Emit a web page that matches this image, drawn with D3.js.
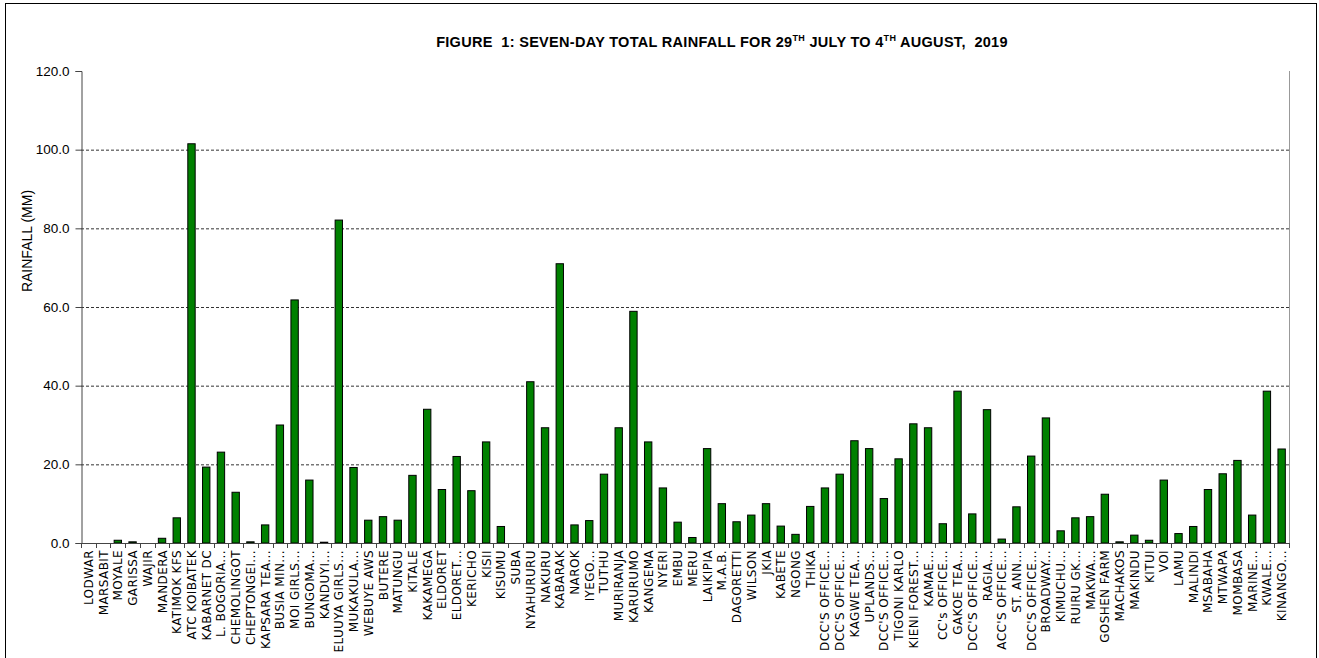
<!DOCTYPE html>
<html>
<head>
<meta charset="utf-8">
<script src="https://cdn.jsdelivr.net/npm/d3@7"></script>
<style>
  body { margin: 0; background: #fff; }
  svg { display: block; }
</style>
</head>
<body>
<script>
// stations, in the order they appear on the x axis
let stations = [
  "LODWAR", "MARSABIT", "MOYALE", "GARISSA", "WAJIR", "MANDERA", "KATIMOK KFS", "ATC KOIBATEK",
  "KABARNET DC", "L. BOGORIA...", "CHEMOLINGOT", "CHEPTONGEI...", "KAPSARA TEA...", "BUSIA MIN...",
  "MOI GIRLS...", "BUNGOMA...", "KANDUYI...", "ELUUYA GIRLS...", "MUKAKULA...", "WEBUYE AWS",
  "BUTERE", "MATUNGU", "KITALE", "KAKAMEGA", "ELDORET", "ELDORET...", "KERICHO", "KISII", "KISUMU",
  "SUBA", "NYAHURURU", "NAKURU", "KABARAK", "NAROK", "IYEGO...", "TUTHU", "MURIRANJA", "KARURUMO",
  "KANGEMA", "NYERI", "EMBU", "MERU", "LAIKIPIA", "M.A.B.", "DAGORETTI", "WILSON", "JKIA", "KABETE",
  "NGONG", "THIKA", "DCC'S OFFICE...", "DCC'S OFFICE...", "KAGWE TEA...", "UPLANDS...",
  "DCC'S OFFICE...", "TIGONI KARLO", "KIENI FOREST...", "KAMAE...", "CC's OFFICE...", "GAKOE TEA...",
  "DCC'S OFFICE...", "RAGIA...", "ACC'S OFFICE...", "ST. ANN...", "DCC'S OFFICE...", "BROADWAY...",
  "KIMUCHU...", "RUIRU GK...", "MAKWA...", "GOSHEN FARM", "MACHAKOS", "MAKINDU", "KITUI", "VOI",
  "LAMU", "MALINDI", "MSABAHA", "MTWAPA", "MOMBASA", "MARINE...", "KWALE...", "KINANGO..."
]

// seven-day totals (mm)
let rainfall = [
  0, 0, 0.7, 0.3, 0, 1.2, 6.4, 101.5,
  19.3, 23.1, 12.9, 0.3, 4.6, 30.0,
  61.8, 16.0, 0.2, 82.1, 19.2, 5.8,
  6.7, 5.8, 17.2, 34.0, 13.6, 22.0, 13.3, 25.7, 4.2,
  0, 41.0, 29.3, 71.0, 4.6, 5.7, 17.5, 29.3, 58.9,
  25.7, 14.0, 5.3, 1.4, 24.0, 10.0, 5.4, 7.1, 10.0, 4.3,
  2.2, 9.3, 14.0, 17.5, 26.0, 24.0,
  11.3, 21.4, 30.3, 29.3, 4.9, 38.6,
  7.4, 33.9, 1.0, 9.2, 22.1, 31.8,
  3.1, 6.4, 6.7, 12.4, 0.3, 2.0, 0.7, 16.0,
  2.4, 4.2, 13.6, 17.6, 21.0, 7.1, 38.6, 23.9
]

let yTicks = [0, 20, 40, 60, 80, 100, 120]

let width = 1319, height = 658
let plotLeft = 81, plotRight = 1289, plotTop = 71, plotBottom = 543

let svg = d3.select("body").append("svg")
            .attr("width", width)
            .attr("height", height)

// outer frame of the figure
svg.append("rect")
   .attr("x", 5.5).attr("y", 3.5)
   .attr("width", 1311).attr("height", 670)
   .attr("fill", "none").attr("stroke", "#000").attr("stroke-width", 1)

let x = d3.scaleBand()
          .domain(d3.range(stations.length))
          .range([plotLeft, plotRight])
          .paddingInner(0.5)
          .paddingOuter(0.25)

let y = d3.scaleLinear()
          .domain([0, 120])
          .range([plotBottom, plotTop])

// dashed grid lines
svg.append("g")
   .selectAll("line")
   .data(yTicks.filter(d => d > 0 && d < 120))
   .enter()
   .append("line")
   .attr("x1", plotLeft).attr("x2", plotRight)
   .attr("y1", d => y(d) + 0.5).attr("y2", d => y(d) + 0.5)
   .attr("stroke", "#333")
   .attr("stroke-dasharray", "3,2")

// right edge of plot area
svg.append("line")
   .attr("x1", plotRight + 0.5).attr("x2", plotRight + 0.5)
   .attr("y1", plotTop).attr("y2", plotBottom)
   .attr("stroke", "#999")

// bars
svg.append("g")
   .selectAll("rect")
   .data(rainfall)
   .enter()
   .append("rect")
   .attr("x", (d, i) => x(i))
   .attr("width", x.bandwidth())
   .attr("y", d => y(d))
   .attr("height", d => y(0) - y(d))
   .attr("fill", "#008000")
   .attr("stroke", "#000")
   .attr("stroke-width", 1)

// y axis
let yAxis = d3.axisLeft(y)
              .tickValues(yTicks)
              .tickFormat(d3.format(".1f"))
              .tickSizeOuter(0)
              .tickSize(6)

let gy = svg.append("g")
            .attr("transform", `translate(${plotLeft + 0.5},0)`)
            .call(yAxis)
gy.select(".domain").attr("stroke", "#444")
gy.selectAll(".tick line").attr("stroke", "#444")
gy.selectAll("text")
  .attr("font-family", "Liberation Sans, Arial, sans-serif")
  .attr("font-size", 13.5)
  .attr("fill", "#000")
  .attr("dx", -3)

// x axis: ticks sit between categories
let n = stations.length
let gx = svg.append("g")
gx.append("line")
  .attr("x1", plotLeft).attr("x2", plotRight)
  .attr("y1", plotBottom + 0.5).attr("y2", plotBottom + 0.5)
  .attr("stroke", "#444")
gx.selectAll(".xtick")
  .data(d3.range(n + 1))
  .enter()
  .append("line")
  .attr("x1", i => Math.round(plotLeft + i * (plotRight - plotLeft) / n) + 0.5)
  .attr("x2", i => Math.round(plotLeft + i * (plotRight - plotLeft) / n) + 0.5)
  .attr("y1", plotBottom)
  .attr("y2", plotBottom + 5)
  .attr("stroke", "#444")

gx.selectAll("text")
  .data(stations)
  .enter()
  .append("text")
  .attr("transform", (d, i) => `translate(${x(i) + x.bandwidth() / 2 + 4.5},${plotBottom + 7}) rotate(-90)`)
  .attr("text-anchor", "end")
  .attr("font-family", "DejaVu Sans, Verdana, sans-serif")
  .attr("font-size", 12)
  .attr("letter-spacing", 0.4)
  .attr("fill", "#000")
  .text(d => d)

// y axis title
svg.append("text")
   .attr("transform", "translate(32,241) rotate(-90)")
   .attr("text-anchor", "middle")
   .attr("font-family", "Liberation Sans, Arial, sans-serif")
   .attr("font-size", 14)
   .text("RAINFALL (MM)")

// chart title with superscripts
let title = svg.append("text")
               .attr("x", 722).attr("y", 47)
               .attr("text-anchor", "middle")
               .attr("font-family", "Liberation Sans, Arial, sans-serif")
               .attr("font-weight", "bold")
               .attr("font-size", 14.5)
               .attr("letter-spacing", 0.3)
title.append("tspan").text("FIGURE\u00a0 1:\u00a0SEVEN-DAY TOTAL RAINFALL FOR 29")
title.append("tspan").attr("font-size", 9).attr("dy", -6).text("TH")
title.append("tspan").attr("dy", 6).text(" JULY TO 4")
title.append("tspan").attr("font-size", 9).attr("dy", -6).text("TH")
title.append("tspan").attr("dy", 6).text(" AUGUST,\u00a0 2019")
</script>
</body>
</html>
